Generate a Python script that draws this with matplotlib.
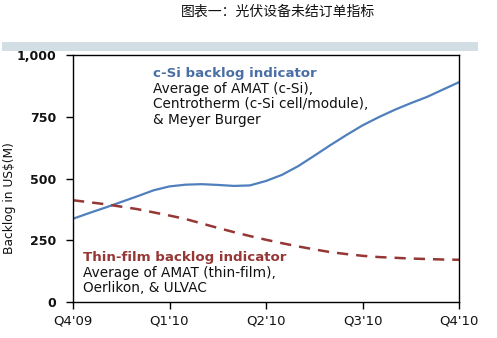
import matplotlib
matplotlib.use("Agg")
import matplotlib.pyplot as plt
from matplotlib.patches import Rectangle

# Half-month sample points, Q4'09 .. Q4'10
periods = [i / 6 for i in range(25)]
csi_backlog = [337, 360, 382, 405, 428, 452, 468, 475, 477, 474, 470, 472, 490,
               515, 550, 592, 635, 676, 715, 748, 778, 805, 830, 860, 890]
thin_film_backlog = [412, 404, 396, 386, 376, 363, 350, 336, 318, 300, 283, 267, 252,
                     238, 225, 213, 202, 194, 187, 182, 179, 176, 174, 172, 171]
quarter_ticks = [0, 1, 2, 3, 4]
quarter_labels = ["Q4'09", "Q1'10", "Q2'10", "Q3'10", "Q4'10"]
y_ticks = [0, 250, 500, 750, 1000]
y_tick_labels = ["0", "250", "500", "750", "1,000"]

W, H = 497, 338
fig = plt.figure(figsize=(W / 100, H / 100), dpi=100)
fig.patch.set_facecolor("white")

# Title and header band
fig.text(278 / W, 1 - 12 / H, "图表一：光伏设备未结订单指标", ha="center", va="center",
         fontsize=10, family=["Noto Sans CJK SC", "DejaVu Sans"], color="#111111")
fig.patches.append(Rectangle((2 / W, 1 - 51 / H), 476 / W, 9 / H,
                             transform=fig.transFigure, facecolor="#d3dde4",
                             edgecolor="none", zorder=0))

ax = fig.add_axes([73 / W, 1 - 302 / H, (459 - 73) / W, (302 - 55) / H])
blue = "#4f7fbc"
red = "#953735"
ax.plot(periods, csi_backlog, color=blue, lw=1.6, solid_capstyle="round")
ax.plot(periods, thin_film_backlog, color=red, lw=1.8, dashes=(4.5, 3.2))

ax.set_xlim(0, 4)
ax.set_ylim(0, 1000)
ax.set_xticks(quarter_ticks)
ax.set_xticklabels(quarter_labels, fontsize=9.5, color="#111111")
ax.set_yticks(y_ticks)
ax.set_yticklabels(y_tick_labels, fontsize=9, fontweight="bold", color="#111111")
ax.tick_params(axis="both", direction="out", length=5, width=1, color="black")
ax.tick_params(axis="x", pad=4)
ax.tick_params(axis="y", pad=7)
for s in ax.spines.values():
    s.set_color("black")
    s.set_linewidth(1)

fig.text(10 / W, 1 - 198 / H, "Backlog in US$(M)", rotation=90, ha="center",
         va="center", fontsize=8.8, color="#111111")

# Series annotations
def axpt(px, py):
    return ((px - 73) / (459 - 73), (302 - py) / (302 - 55))

ax.text(*axpt(153, 73), "c-Si backlog indicator", transform=ax.transAxes,
        fontsize=9.6, fontweight="bold", color="#4a6fa5", va="center", ha="left")
for i, line in enumerate(["Average of AMAT (c-Si),",
                          "Centrotherm (c-Si cell/module),",
                          "& Meyer Burger"]):
    ax.text(*axpt(153, 89 + 15.5 * i), line, transform=ax.transAxes,
            fontsize=9.8, color="#111111", va="center", ha="left")

ax.text(*axpt(83, 257), "Thin-film backlog indicator", transform=ax.transAxes,
        fontsize=9.6, fontweight="bold", color=red, va="center", ha="left")
for i, line in enumerate(["Average of AMAT (thin-film),",
                          "Oerlikon, & ULVAC"]):
    ax.text(*axpt(83, 273 + 15.5 * i), line, transform=ax.transAxes,
            fontsize=9.8, color="#111111", va="center", ha="left")

fig.savefig("out.png", dpi=100)
